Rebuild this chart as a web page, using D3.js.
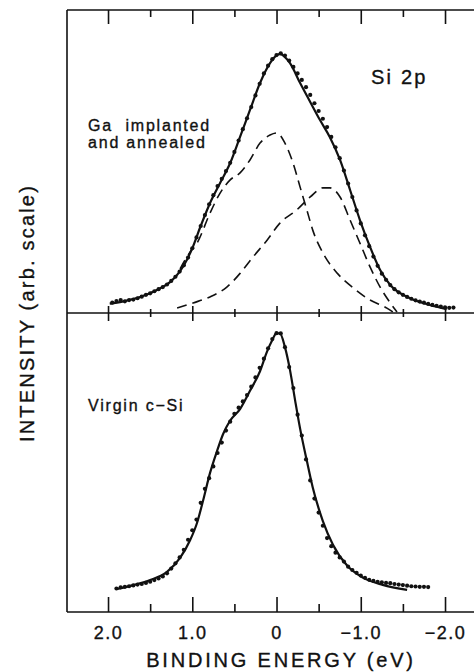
<!DOCTYPE html>
<html>
<head>
<meta charset="utf-8">
<script src="https://cdn.jsdelivr.net/npm/d3@7"></script>
<style>
  html, body { margin: 0; padding: 0; background: #fff; }
  svg { display: block; font-family: 'Liberation Sans', Arial, Helvetica, sans-serif; }
  svg text { stroke: #111; stroke-width: 0.35; }
  .ticks line { stroke: #111; stroke-width: 1.6; }
  .ticks path { display: none; }
  .labels path { display: none; }
  .labels text { font-size: 18px; letter-spacing: 1.5px; fill: #111; }
</style>
</head>
<body>
<div id="chart"></div>
<script>
// binding energy axis (eV), reversed
const majorTicks = [2, 1, 0, -1, -2];
const minorTicks = [1.5, 0.5, -0.5, -1.5];
const tickLabels = ['2.0', '1.0', '0', '\u22121.0', '\u22122.0'];

// Ga implanted and annealed: [binding energy, intensity]
const gaFit = [
  [1.98, 0.036], [1.83, 0.044], [1.62, 0.062], [1.42, 0.089], [1.26, 0.120], [1.145, 0.162],
  [1.06, 0.208], [1.00, 0.250], [0.905, 0.332], [0.789, 0.425], [0.67, 0.502], [0.55, 0.579],
  [0.433, 0.680], [0.315, 0.784], [0.196, 0.888], [0.077, 0.965], [-0.006, 0.996], [-0.04, 1.0],
  [-0.16, 0.965], [-0.28, 0.888], [-0.40, 0.815], [-0.516, 0.745], [-0.635, 0.678], [-0.754, 0.591],
  [-0.873, 0.475], [-0.99, 0.359], [-1.11, 0.255], [-1.23, 0.166], [-1.35, 0.108], [-1.58, 0.058],
  [-1.82, 0.031], [-2.02, 0.015]
];
const gaBulk = [
  [1.145, 0.170], [1.025, 0.236], [0.944, 0.270], [0.789, 0.386], [0.67, 0.463], [0.55, 0.514],
  [0.433, 0.541], [0.315, 0.591], [0.196, 0.656], [0.077, 0.687], [-0.006, 0.695], [-0.10, 0.656],
  [-0.196, 0.579], [-0.28, 0.486], [-0.36, 0.398], [-0.43, 0.320], [-0.55, 0.232], [-0.72, 0.154],
  [-0.91, 0.097], [-1.11, 0.050], [-1.31, 0.019], [-1.38, 0.004]
];
const gaShifted = [
  [1.18, 0.019], [0.99, 0.039], [0.79, 0.062], [0.59, 0.100], [0.43, 0.154], [0.28, 0.216],
  [0.11, 0.282], [-0.04, 0.347], [-0.24, 0.398], [-0.40, 0.448], [-0.55, 0.483], [-0.635, 0.483],
  [-0.754, 0.448], [-0.873, 0.359], [-0.99, 0.270], [-1.11, 0.178], [-1.23, 0.100], [-1.35, 0.039],
  [-1.43, 0.004]
];
const gaData = [
  [1.95, 0.040], [1.90, 0.046], [1.85, 0.050], [1.80, 0.045], [1.75, 0.050], [1.70, 0.052],
  [1.65, 0.057], [1.60, 0.063], [1.55, 0.070], [1.50, 0.076], [1.45, 0.084], [1.40, 0.092],
  [1.35, 0.100], [1.30, 0.110], [1.25, 0.124], [1.20, 0.140], [1.15, 0.160], [1.10, 0.184],
  [1.05, 0.214], [1.00, 0.250], [0.95, 0.292], [0.90, 0.336], [0.85, 0.378], [0.80, 0.420],
  [0.75, 0.455], [0.70, 0.490], [0.65, 0.518], [0.60, 0.548], [0.55, 0.580], [0.50, 0.622],
  [0.45, 0.666], [0.40, 0.710], [0.35, 0.752], [0.30, 0.795], [0.25, 0.840], [0.20, 0.885],
  [0.15, 0.925], [0.10, 0.955], [0.05, 0.980], [0.00, 0.996], [-0.05, 1.003], [-0.10, 0.994],
  [-0.15, 0.975], [-0.20, 0.950], [-0.25, 0.925], [-0.30, 0.900], [-0.35, 0.872], [-0.40, 0.842],
  [-0.45, 0.810], [-0.50, 0.780], [-0.55, 0.750], [-0.60, 0.718], [-0.65, 0.680], [-0.70, 0.640],
  [-0.75, 0.598], [-0.80, 0.550], [-0.85, 0.500], [-0.90, 0.448], [-0.95, 0.396], [-1.00, 0.346],
  [-1.05, 0.300], [-1.10, 0.258], [-1.15, 0.218], [-1.20, 0.182], [-1.25, 0.152], [-1.30, 0.128],
  [-1.35, 0.108], [-1.40, 0.092], [-1.45, 0.080], [-1.50, 0.070], [-1.55, 0.062], [-1.60, 0.055],
  [-1.65, 0.049], [-1.70, 0.044], [-1.75, 0.040], [-1.80, 0.035], [-1.85, 0.031], [-1.90, 0.028],
  [-1.95, 0.025], [-2.00, 0.022], [-2.05, 0.020], [-2.10, 0.021]
];

// virgin c-Si
const siFit = [
  [1.89, 0.082], [1.70, 0.096], [1.50, 0.114], [1.30, 0.143], [1.145, 0.193], [1.025, 0.257],
  [0.944, 0.318], [0.87, 0.400], [0.79, 0.496], [0.706, 0.575], [0.635, 0.635], [0.55, 0.684],
  [0.433, 0.725], [0.315, 0.790], [0.196, 0.860], [0.113, 0.930], [0.053, 0.970], [0.00, 0.995],
  [-0.04, 0.995], [-0.10, 0.946], [-0.16, 0.864], [-0.22, 0.757], [-0.28, 0.655], [-0.36, 0.540],
  [-0.43, 0.445], [-0.50, 0.370], [-0.55, 0.325], [-0.67, 0.240], [-0.84, 0.165], [-1.03, 0.122],
  [-1.26, 0.097], [-1.55, 0.079]
];
const siData = [
  [1.90, 0.084], [1.85, 0.088], [1.80, 0.090], [1.75, 0.092], [1.70, 0.095], [1.65, 0.098],
  [1.60, 0.100], [1.55, 0.104], [1.50, 0.108], [1.45, 0.114], [1.40, 0.120], [1.35, 0.127],
  [1.30, 0.138], [1.25, 0.155], [1.20, 0.174], [1.15, 0.195], [1.10, 0.222], [1.05, 0.258],
  [1.00, 0.292], [0.95, 0.330], [0.90, 0.390], [0.85, 0.440], [0.80, 0.478], [0.75, 0.520],
  [0.70, 0.568], [0.65, 0.605], [0.60, 0.648], [0.55, 0.680], [0.50, 0.708], [0.45, 0.730],
  [0.40, 0.752], [0.35, 0.775], [0.30, 0.805], [0.25, 0.838], [0.20, 0.872], [0.15, 0.905],
  [0.10, 0.942], [0.05, 0.975], [0.00, 0.996], [-0.05, 0.995], [-0.10, 0.946], [-0.15, 0.875],
  [-0.20, 0.800], [-0.25, 0.705], [-0.30, 0.630], [-0.35, 0.545], [-0.40, 0.470], [-0.45, 0.405],
  [-0.50, 0.355], [-0.55, 0.308], [-0.60, 0.264], [-0.65, 0.235], [-0.70, 0.212], [-0.75, 0.195],
  [-0.80, 0.180], [-0.85, 0.162], [-0.90, 0.150], [-0.95, 0.140], [-1.00, 0.130], [-1.05, 0.122],
  [-1.10, 0.115], [-1.15, 0.111], [-1.20, 0.108], [-1.25, 0.106], [-1.30, 0.104], [-1.35, 0.103],
  [-1.40, 0.100], [-1.45, 0.098], [-1.50, 0.096], [-1.55, 0.094], [-1.60, 0.092], [-1.65, 0.091],
  [-1.70, 0.090], [-1.75, 0.090], [-1.80, 0.089]
];

const w = 474;
const h = 672;
const frame = { l: 67, t: 10, mid: 313, b: 612 };

const svg = d3.select('#chart').append('svg').attr('width', w).attr('height', h);

const x = d3.scaleLinear().domain([2.487, -2.344]).range([frame.l, w]);
const yTop = d3.scaleLinear().domain([0, 1.17]).range([frame.mid, frame.t]);
const yBot = d3.scaleLinear().domain([0, 1.068]).range([frame.b, frame.mid]);

// frame
const frameLines = [
  [frame.l, frame.t, frame.l, frame.b],
  [frame.l, frame.t, w, frame.t],
  [frame.l, frame.mid, w, frame.mid],
  [frame.l, frame.b, w, frame.b],
];
svg
  .append('g')
  .selectAll('line')
  .data(frameLines)
  .join('line')
  .attr('x1', (d) => d[0])
  .attr('y1', (d) => d[1])
  .attr('x2', (d) => d[2])
  .attr('y2', (d) => d[3])
  .attr('stroke', '#111')
  .attr('stroke-width', 1.6);

function ticks(axis, yPos, values, size) {
  svg
    .append('g')
    .attr('class', 'ticks')
    .attr('transform', `translate(0,${yPos})`)
    .call(axis(x).tickValues(values).tickSize(size).tickSizeOuter(0).tickFormat(''));
}

// top edge: ticks hang down
ticks(d3.axisBottom, frame.t, majorTicks, 14);
ticks(d3.axisBottom, frame.t, minorTicks, 7);
// divider: ticks cross
ticks(d3.axisTop, frame.mid, majorTicks, 7);
ticks(d3.axisBottom, frame.mid, majorTicks, 8);
ticks(d3.axisTop, frame.mid, minorTicks, 4);
ticks(d3.axisBottom, frame.mid, minorTicks, 4);
// bottom edge: ticks point up
ticks(d3.axisTop, frame.b, majorTicks, 15);
ticks(d3.axisTop, frame.b, minorTicks, 8);

svg
  .append('g')
  .attr('class', 'labels')
  .attr('transform', `translate(0,${frame.b})`)
  .call(d3.axisBottom(x).tickValues(majorTicks).tickSize(0).tickPadding(14).tickFormat((d, i) => tickLabels[i]));

function drawPanel(y, fit, comps, dots) {
  const line = d3
    .line()
    .x((d) => x(d[0]))
    .y((d) => y(d[1]))
    .curve(d3.curveMonotoneX);

  comps.forEach((c) => {
    svg
      .append('path')
      .datum(c)
      .attr('fill', 'none')
      .attr('stroke', '#111')
      .attr('stroke-width', 1.6)
      .attr('stroke-dasharray', '10,6')
      .attr('d', line);
  });

  svg
    .append('path')
    .datum(fit)
    .attr('fill', 'none')
    .attr('stroke', '#111')
    .attr('stroke-width', 2.2)
    .attr('d', line);

  svg
    .append('g')
    .selectAll('circle')
    .data(dots)
    .join('circle')
    .attr('cx', (d) => x(d[0]))
    .attr('cy', (d) => y(d[1]))
    .attr('r', 2.1)
    .attr('fill', '#111');
}

drawPanel(yTop, gaFit, [gaBulk, gaShifted], gaData);
drawPanel(yBot, siFit, [], siData);

// annotations
svg
  .append('text')
  .attr('x', 371)
  .attr('y', 84)
  .attr('font-size', 20)
  .attr('letter-spacing', 2.2)
  .attr('fill', '#111')
  .text('Si 2p');

svg
  .append('text')
  .attr('x', 88)
  .attr('y', 131)
  .attr('font-size', 16)
  .attr('letter-spacing', 1.8)
  .attr('fill', '#111')
  .style('white-space', 'pre')
  .text('Ga  implanted');

svg
  .append('text')
  .attr('x', 88)
  .attr('y', 148)
  .attr('font-size', 16)
  .attr('letter-spacing', 1.8)
  .attr('fill', '#111')
  .text('and annealed');

svg
  .append('text')
  .attr('x', 88)
  .attr('y', 411)
  .attr('font-size', 16)
  .attr('letter-spacing', 1.8)
  .attr('fill', '#111')
  .text('Virgin c\u2212Si');

// axis titles
svg
  .append('text')
  .attr('x', 281)
  .attr('y', 667)
  .attr('text-anchor', 'middle')
  .attr('font-size', 20)
  .attr('letter-spacing', 2.8)
  .attr('fill', '#111')
  .text('BINDING ENERGY (eV)');

svg
  .append('text')
  .attr('transform', 'translate(34,313) rotate(-90)')
  .attr('text-anchor', 'middle')
  .attr('font-size', 20)
  .attr('letter-spacing', 2.2)
  .attr('fill', '#111')
  .text('INTENSITY (arb. scale)');
</script>
</body>
</html>
